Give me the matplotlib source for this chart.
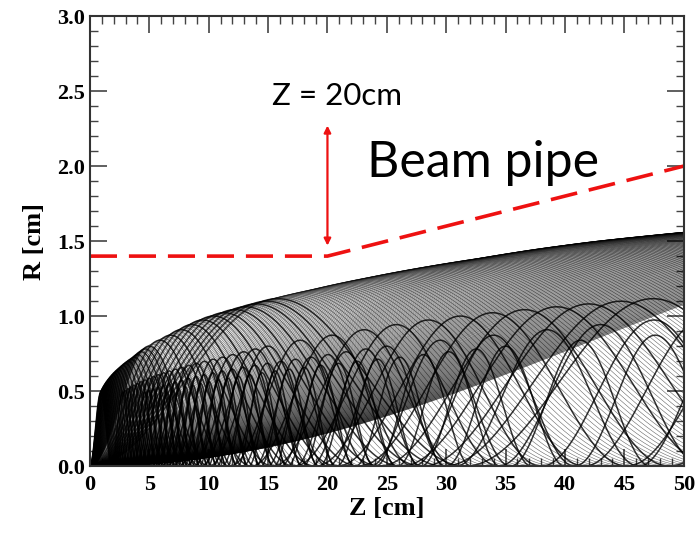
import numpy as np
import matplotlib.pyplot as plt
from matplotlib.ticker import MultipleLocator

# envelope of the first-turn maxima of the tracks (z of the peak, R of the peak)
peak_z = [0.9, 1.7, 2.6, 3.8, 5, 7, 10, 13, 16, 20, 25, 30, 35, 40, 45, 50, 60, 70, 86]
peak_r = [0.49, 0.59, 0.66, 0.73, 0.80, 0.88, 0.99, 1.06, 1.12, 1.19, 1.27, 1.34,
          1.40, 1.46, 1.51, 1.55, 1.62, 1.67, 1.72]
n_short = 70        # tracks with the peak below 5 cm
zp_step = 0.3       # spacing of the peaks further out
every_long = 3      # every n-th track below 16 cm is followed over several turns
long_max_zp = 16
n_turns = 4

# beam pipe profile
pipe_z = [0, 20, 50]
pipe_r = [1.4, 1.4, 2.0]

arrow_z = 20
arrow_r = (1.47, 2.27)

fig = plt.figure(figsize=(6.97, 5.34), dpi=100)
ax = fig.add_axes([0.129, 0.127, 0.852, 0.843])

zp_all = np.concatenate([np.geomspace(peak_z[0], 5, n_short, endpoint=False),
                         np.arange(5, peak_z[-1] + 1e-6, zp_step)])
h_all = np.interp(np.log(zp_all), np.log(peak_z), peak_r)
for i, (zp, h) in enumerate(zip(zp_all, h_all)):
    period = 2 * zp
    if i % every_long == 1 and zp < long_max_zp:
        z = np.linspace(0, min(n_turns * period, 50), 3000)
        style = dict(lw=1.1, alpha=0.8)
    else:
        z = np.linspace(0, min(period, 50), 1200)
        style = dict(lw=0.4, alpha=0.6)
    r = h * np.sin(np.pi * z / period) ** 2
    ax.plot(z, r, color='black', **style)

ax.plot(pipe_z, pipe_r, color='#ee1111', lw=2.6, dashes=(7.5, 3.3))
ax.annotate('', xy=(arrow_z, arrow_r[0]), xytext=(arrow_z, arrow_r[1]),
            arrowprops=dict(arrowstyle='<|-|>', color='#ee1111', lw=1.6,
                            mutation_scale=10, shrinkA=0, shrinkB=0))

ax.text(15.3, 2.41, 'Z = 20cm', fontsize=22.5, family='Lato', va='baseline')
ax.text(23.3, 1.93, 'Beam pipe', fontsize=36, family='Lato', va='baseline')

ax.set_xlim(0, 50)
ax.set_ylim(0, 3)
ax.xaxis.set_major_locator(MultipleLocator(5))
ax.xaxis.set_minor_locator(MultipleLocator(1))
ax.yaxis.set_major_locator(MultipleLocator(0.5))
ax.yaxis.set_minor_locator(MultipleLocator(0.1))
ax.yaxis.set_major_formatter(plt.FormatStrFormatter('%.1f'))
ax.tick_params(which='both', direction='in', top=True, right=True, color='#444444')
ax.tick_params(which='major', length=12, width=1.2)
ax.tick_params(which='minor', length=6, width=1.0)
ax.tick_params(axis='x', pad=6)
for lab in ax.get_xticklabels() + ax.get_yticklabels():
    lab.set_family('Liberation Serif')
    lab.set_fontweight('bold')
    lab.set_fontsize(16)
for sp in ax.spines.values():
    sp.set_linewidth(1.5)
    sp.set_color('#333333')

ax.set_xlabel('Z [cm]', family='Liberation Serif', fontweight='bold', fontsize=19, labelpad=2)
ax.set_ylabel('R [cm]', family='Liberation Serif', fontweight='bold', fontsize=19, labelpad=8)

fig.savefig('out.png', dpi=100)
